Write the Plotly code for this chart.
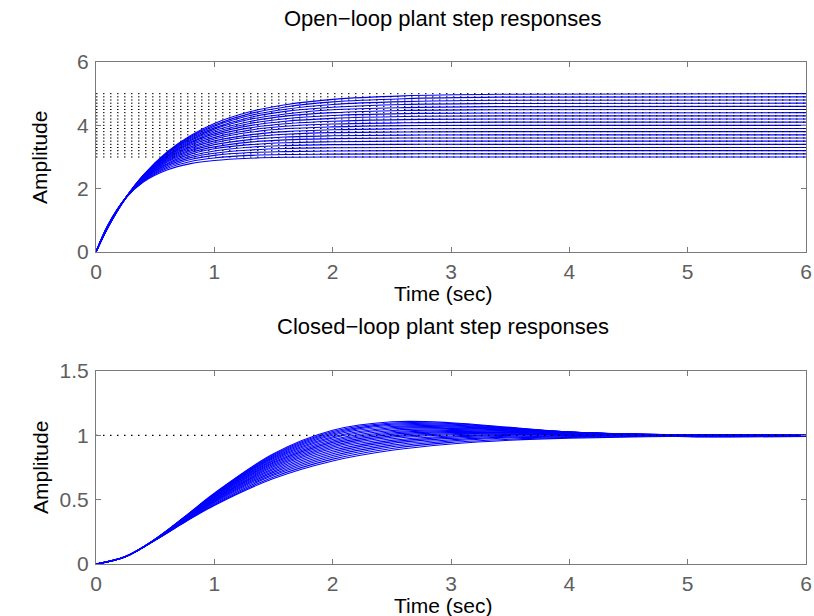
import plotly.graph_objects as go
from plotly.subplots import make_subplots

# sample times (sec)
t_open = [0, 0.1, 0.25, 0.4, 0.6, 0.8, 1.0, 1.3, 1.6, 2.0, 2.6, 3.4, 6.0]
t_closed = [0, 0.25, 0.5, 0.75, 1.0, 1.5, 2.0, 2.5, 3.0, 3.5, 4.0, 5.0, 6.0]

# plant gains (steady-state levels, dotted lines in the top panel)
gains = [3.0, 3.1, 3.2, 3.3, 3.4, 3.5, 3.6, 3.7, 3.8, 3.9, 4.0,
         4.1, 4.2, 4.3, 4.4, 4.5, 4.6, 4.7, 4.8, 4.9, 5.0]
closed_ref = 1.0

# open-loop step responses, one list per plant
ol_30 = [0, 0.85, 1.70, 2.21, 2.59, 2.79, 2.89, 2.96, 2.99, 3.00, 3.00, 3.00, 3.00]
ol_31 = [0, 0.84, 1.70, 2.23, 2.64, 2.86, 2.97, 3.05, 3.08, 3.09, 3.10, 3.10, 3.10]
ol_32 = [0, 0.84, 1.70, 2.25, 2.68, 2.92, 3.05, 3.14, 3.17, 3.19, 3.20, 3.20, 3.20]
ol_33 = [0, 0.83, 1.70, 2.26, 2.72, 2.98, 3.12, 3.22, 3.27, 3.29, 3.30, 3.30, 3.30]
ol_34 = [0, 0.82, 1.70, 2.28, 2.76, 3.03, 3.19, 3.31, 3.36, 3.39, 3.40, 3.40, 3.40]
ol_35 = [0, 0.82, 1.70, 2.30, 2.79, 3.09, 3.26, 3.39, 3.45, 3.48, 3.50, 3.50, 3.50]
ol_36 = [0, 0.81, 1.70, 2.31, 2.83, 3.14, 3.32, 3.47, 3.54, 3.58, 3.60, 3.60, 3.60]
ol_37 = [0, 0.81, 1.70, 2.32, 2.86, 3.19, 3.39, 3.55, 3.63, 3.67, 3.69, 3.70, 3.70]
ol_38 = [0, 0.81, 1.70, 2.33, 2.89, 3.23, 3.45, 3.63, 3.72, 3.77, 3.79, 3.80, 3.80]
ol_39 = [0, 0.80, 1.70, 2.35, 2.92, 3.28, 3.51, 3.70, 3.80, 3.86, 3.89, 3.90, 3.90]
ol_40 = [0, 0.80, 1.70, 2.36, 2.95, 3.32, 3.57, 3.78, 3.89, 3.95, 3.99, 4.00, 4.00]
ol_41 = [0, 0.79, 1.71, 2.37, 2.97, 3.37, 3.62, 3.85, 3.97, 4.04, 4.08, 4.10, 4.10]
ol_42 = [0, 0.79, 1.71, 2.37, 3.00, 3.41, 3.68, 3.92, 4.05, 4.13, 4.18, 4.20, 4.20]
ol_43 = [0, 0.79, 1.70, 2.38, 3.02, 3.45, 3.73, 3.99, 4.13, 4.22, 4.28, 4.30, 4.30]
ol_44 = [0, 0.78, 1.71, 2.39, 3.04, 3.48, 3.78, 4.06, 4.21, 4.31, 4.37, 4.39, 4.40]
ol_45 = [0, 0.78, 1.71, 2.40, 3.06, 3.52, 3.83, 4.12, 4.29, 4.40, 4.47, 4.49, 4.50]
ol_46 = [0, 0.78, 1.70, 2.41, 3.09, 3.55, 3.88, 4.19, 4.36, 4.49, 4.56, 4.59, 4.60]
ol_47 = [0, 0.78, 1.70, 2.41, 3.11, 3.59, 3.92, 4.25, 4.44, 4.57, 4.66, 4.69, 4.70]
ol_48 = [0, 0.77, 1.70, 2.42, 3.12, 3.62, 3.97, 4.31, 4.51, 4.66, 4.75, 4.79, 4.80]
ol_49 = [0, 0.77, 1.70, 2.43, 3.14, 3.65, 4.01, 4.37, 4.58, 4.74, 4.84, 4.89, 4.90]
ol_50 = [0, 0.77, 1.70, 2.43, 3.16, 3.68, 4.06, 4.43, 4.65, 4.82, 4.93, 4.98, 5.00]

# closed-loop step responses, one list per plant
cl_30 = [0, 0.060, 0.184, 0.324, 0.455, 0.664, 0.801, 0.884, 0.933, 0.962, 0.978, 0.993, 0.998]
cl_31 = [0, 0.059, 0.184, 0.327, 0.461, 0.676, 0.815, 0.898, 0.945, 0.970, 0.984, 0.996, 0.999]
cl_32 = [0, 0.059, 0.186, 0.330, 0.468, 0.689, 0.829, 0.911, 0.956, 0.979, 0.990, 0.998, 1.000]
cl_33 = [0, 0.059, 0.186, 0.333, 0.475, 0.700, 0.843, 0.924, 0.966, 0.986, 0.995, 1.000, 1.000]
cl_34 = [0, 0.059, 0.187, 0.336, 0.481, 0.712, 0.857, 0.937, 0.976, 0.993, 0.999, 1.001, 1.001]
cl_35 = [0, 0.058, 0.187, 0.339, 0.486, 0.723, 0.870, 0.949, 0.986, 1.000, 1.003, 1.002, 1.001]
cl_36 = [0, 0.058, 0.188, 0.342, 0.492, 0.734, 0.884, 0.961, 0.995, 1.006, 1.007, 1.003, 1.001]
cl_37 = [0, 0.058, 0.189, 0.344, 0.498, 0.745, 0.897, 0.973, 1.004, 1.012, 1.010, 1.004, 1.000]
cl_38 = [0, 0.058, 0.189, 0.347, 0.502, 0.755, 0.909, 0.985, 1.012, 1.017, 1.013, 1.004, 1.000]
cl_39 = [0, 0.058, 0.189, 0.349, 0.507, 0.765, 0.921, 0.996, 1.021, 1.022, 1.016, 1.004, 1.000]
cl_40 = [0, 0.058, 0.190, 0.351, 0.512, 0.775, 0.933, 1.007, 1.029, 1.027, 1.018, 1.003, 0.999]
cl_41 = [0, 0.057, 0.190, 0.353, 0.517, 0.784, 0.945, 1.018, 1.037, 1.031, 1.019, 1.003, 0.999]
cl_42 = [0, 0.057, 0.191, 0.355, 0.521, 0.793, 0.956, 1.028, 1.044, 1.036, 1.021, 1.002, 0.998]
cl_43 = [0, 0.057, 0.191, 0.357, 0.525, 0.802, 0.967, 1.038, 1.052, 1.040, 1.022, 1.001, 0.997]
cl_44 = [0, 0.057, 0.191, 0.359, 0.529, 0.811, 0.979, 1.049, 1.059, 1.043, 1.023, 1.000, 0.997]
cl_45 = [0, 0.057, 0.192, 0.361, 0.533, 0.819, 0.989, 1.059, 1.066, 1.047, 1.024, 0.999, 0.996]
cl_46 = [0, 0.057, 0.192, 0.362, 0.536, 0.827, 1.000, 1.068, 1.073, 1.050, 1.025, 0.997, 0.995]
cl_47 = [0, 0.057, 0.192, 0.364, 0.540, 0.835, 1.010, 1.078, 1.079, 1.053, 1.025, 0.995, 0.994]
cl_48 = [0, 0.057, 0.193, 0.365, 0.543, 0.843, 1.020, 1.087, 1.086, 1.056, 1.025, 0.994, 0.994]
cl_49 = [0, 0.056, 0.193, 0.367, 0.547, 0.850, 1.030, 1.096, 1.092, 1.059, 1.025, 0.992, 0.993]
cl_50 = [0, 0.056, 0.193, 0.368, 0.550, 0.857, 1.039, 1.105, 1.098, 1.062, 1.025, 0.990, 0.992]

open_loop = [ol_30, ol_31, ol_32, ol_33, ol_34, ol_35, ol_36, ol_37, ol_38, ol_39, ol_40,
             ol_41, ol_42, ol_43, ol_44, ol_45, ol_46, ol_47, ol_48, ol_49, ol_50]
closed_loop = [cl_30, cl_31, cl_32, cl_33, cl_34, cl_35, cl_36, cl_37, cl_38, cl_39, cl_40,
               cl_41, cl_42, cl_43, cl_44, cl_45, cl_46, cl_47, cl_48, cl_49, cl_50]

# styling
blue = "#0000ff"
axis_grey = "#7a7a7a"
tick_grey = "#5e5e5e"
font_family = "Liberation Sans, Arial, Helvetica, sans-serif"

fig = make_subplots(rows=2, cols=1)

# top panel: open-loop
for y in open_loop:
    fig.add_trace(go.Scatter(x=t_open, y=y, mode="lines", line=dict(color=blue, width=1.1, shape="spline"),
                             hoverinfo="skip", showlegend=False), row=1, col=1)

ss_x, ss_y = [], []
for k in gains:
    ss_x += [0, t_open[-1], None]
    ss_y += [k, k, None]
fig.add_trace(go.Scatter(x=ss_x, y=ss_y, mode="lines", line=dict(color="black", width=1, dash="1.5px,5.5px"),
                         hoverinfo="skip", showlegend=False), row=1, col=1)

# bottom panel: closed-loop
for y in closed_loop:
    fig.add_trace(go.Scatter(x=t_closed, y=y, mode="lines", line=dict(color=blue, width=1.1, shape="spline"),
                             hoverinfo="skip", showlegend=False), row=2, col=1)

fig.add_trace(go.Scatter(x=[0, t_closed[-1]], y=[closed_ref, closed_ref], mode="lines",
                         line=dict(color="black", width=1.3, dash="1.5px,5.5px"),
                         hoverinfo="skip", showlegend=False), row=2, col=1)

axis_style = dict(showline=True, linecolor=axis_grey, linewidth=1, mirror="ticks", ticks="inside",
                  ticklen=5, tickcolor=axis_grey, showgrid=False, zeroline=False, automargin=False,
                  tickfont=dict(family=font_family, size=21, color=tick_grey))

fig.update_xaxes(range=[0, 6], dtick=1, ticklabelstandoff=1, **axis_style)
fig.update_yaxes(ticklabelstandoff=2, **axis_style)
fig.update_yaxes(range=[0, 6], dtick=2, row=1, col=1)
fig.update_yaxes(range=[0, 1.5], dtick=0.5, row=2, col=1)

# panel placement (plot area 96..806 x 62..564 px)
fig.update_layout(
    yaxis=dict(domain=[0.6215, 1.0]),
    yaxis2=dict(domain=[0.0, 0.3845]),
    xaxis=dict(domain=[0, 1]),
    xaxis2=dict(domain=[0, 1]),
)

label_font = dict(family=font_family, size=21, color="black")
title_font = dict(family=font_family, size=22, color="black")
notes = [
    ("Open\u2212loop plant step responses", 0.4887, 1.0876, 0, title_font),
    ("Closed\u2212loop plant step responses", 0.4887, 0.474, 0, title_font),
    ("Time (sec)", 0.4887, 0.5398, 0, label_font),
    ("Time (sec)", 0.4887, -0.0817, 0, label_font),
    ("Amplitude", -0.0789, 0.8108, -90, label_font),
    ("Amplitude", -0.0789, 0.1932, -90, label_font),
]
for txt, px_, py_, ang, fnt in notes:
    fig.add_annotation(text=txt, x=px_, y=py_, xref="paper", yref="paper", showarrow=False,
                       xanchor="center", yanchor="middle", textangle=ang, font=fnt)

fig.update_layout(
    width=814, height=616,
    margin=dict(l=96, r=8, t=62, b=52),
    paper_bgcolor="white", plot_bgcolor="white",
    hovermode=False,
)

# drop the default page margin and scrollbars so the figure fills the window exactly
page_fix = ("document.body.style.margin='0';"
            "document.body.style.overflow='hidden';"
            "document.documentElement.style.overflow='hidden';")
fig.write_html("out.html", post_script=page_fix, config={"displayModeBar": False})
